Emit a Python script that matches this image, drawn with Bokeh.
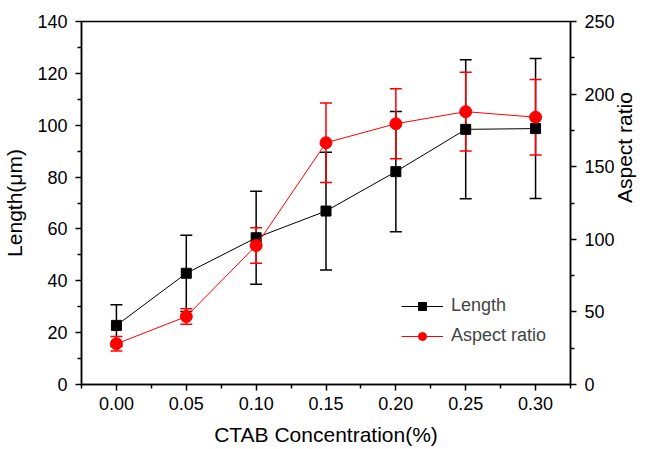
import math
from bokeh.plotting import figure
from bokeh.models import (ColumnDataSource, Range1d, LinearAxis, FixedTicker, Whisker, TeeHead,
                          Legend, LegendItem)
from bokeh.embed import file_html
from bokeh.resources import INLINE

conc = [0.00, 0.05, 0.10, 0.15, 0.20, 0.25, 0.30]
x_tick_labels = ["0.00", "0.05", "0.10", "0.15", "0.20", "0.25", "0.30"]
length = [22.8, 42.9, 56.6, 66.9, 82.1, 98.4, 98.7]
length_err = [8.0, 14.7, 17.9, 22.7, 23.2, 26.8, 27.0]
aspect = [28.0, 46.8, 95.7, 166.5, 179.6, 187.9, 184.1]
aspect_err = [5.0, 5.3, 12.2, 27.4, 24.1, 27.1, 26.0]
left_ticks = [0, 20, 40, 60, 80, 100, 120, 140]
right_ticks = [0, 50, 100, 150, 200, 250]

FONT = "Liberation Sans"

src = ColumnDataSource(dict(
    x=conc, L=length,
    Lup=[v + e for v, e in zip(length, length_err)],
    Llo=[v - e for v, e in zip(length, length_err)],
    A=aspect,
    Aup=[v + e for v, e in zip(aspect, aspect_err)],
    Alo=[v - e for v, e in zip(aspect, aspect_err)],
))

p = figure(width=650, height=449, output_backend="svg", toolbar_location=None,
           x_range=Range1d(-0.025, 0.325), y_range=Range1d(0, 140),
           min_border_left=81, min_border_right=77, min_border_top=21, min_border_bottom=65)
p.extra_y_ranges = {"ar": Range1d(0, 250)}
p.xgrid.visible = False
p.ygrid.visible = False
p.outline_line_color = "black"
p.outline_line_width = 1.5
p.background_fill_color = "white"
p.border_fill_color = "white"

# black series
l1 = p.line("x", "L", source=src, color="black", line_width=1)
p.add_layout(Whisker(base="x", upper="Lup", lower="Llo", source=src,
                     line_color="black", line_width=1.5,
                     upper_head=TeeHead(size=12, line_color="black", line_width=1.5),
                     lower_head=TeeHead(size=12, line_color="black", line_width=1.5)))
s1 = p.scatter("x", "L", source=src, marker="square", size=10, color="black")

# red series
l2 = p.line("x", "A", source=src, color="red", line_width=1, y_range_name="ar")
p.add_layout(Whisker(base="x", upper="Aup", lower="Alo", source=src, y_range_name="ar",
                     line_color="red", line_width=1.5,
                     upper_head=TeeHead(size=12, line_color="red", line_width=1.5),
                     lower_head=TeeHead(size=12, line_color="red", line_width=1.5)))
s2 = p.scatter("x", "A", source=src, marker="circle", size=12, color="red", y_range_name="ar")

def style(ax, lab_standoff, axlab_standoff):
    ax.axis_line_width = 1.5
    ax.major_tick_line_width = 1.5
    ax.minor_tick_line_width = 1.5
    ax.major_tick_out = 6
    ax.major_tick_in = 0
    ax.minor_tick_out = 4
    ax.minor_tick_in = 0
    ax.major_label_standoff = lab_standoff
    ax.axis_label_standoff = axlab_standoff
    ax.major_label_text_font = FONT
    ax.major_label_text_font_size = "18px"
    ax.major_label_text_color = "black"
    ax.axis_label_text_font = FONT
    ax.axis_label_text_font_size = "21px"
    ax.axis_label_text_font_style = "normal"
    ax.axis_label_text_color = "black"

xa = p.xaxis[0]
xa.ticker = FixedTicker(ticks=conc, minor_ticks=[-0.025 + 0.05 * i for i in range(8)])
xa.major_label_overrides = {c: t for c, t in zip(conc, x_tick_labels)}
xa.axis_label = "CTAB Concentration(%)"
style(xa, 6, 10)

ya = p.yaxis[0]
ya.ticker = FixedTicker(ticks=left_ticks, minor_ticks=[10 + 20 * i for i in range(7)])
ya.axis_label = "Length(\u03bcm)"
style(ya, 8, 8)

ra = LinearAxis(y_range_name="ar", axis_label="Aspect ratio")
ra.ticker = FixedTicker(ticks=right_ticks, minor_ticks=[25 + 50 * i for i in range(5)])
style(ra, 8, 7)
try:
    ra.axis_label_orientation = math.pi / 2
except Exception:
    pass
p.add_layout(ra, "right")

leg = Legend(items=[LegendItem(label="Length", renderers=[l1, s1]),
                    LegendItem(label="Aspect ratio", renderers=[l2, s2])],
             location=(320, 38))
leg.border_line_color = None
leg.background_fill_alpha = 0
leg.label_text_font = FONT
leg.label_text_font_size = "18px"
leg.glyph_width = 42
leg.glyph_height = 20
leg.spacing = 9
leg.label_standoff = 8
leg.padding = 4
p.add_layout(leg)

open("out.html", "w").write(file_html(p, INLINE))
